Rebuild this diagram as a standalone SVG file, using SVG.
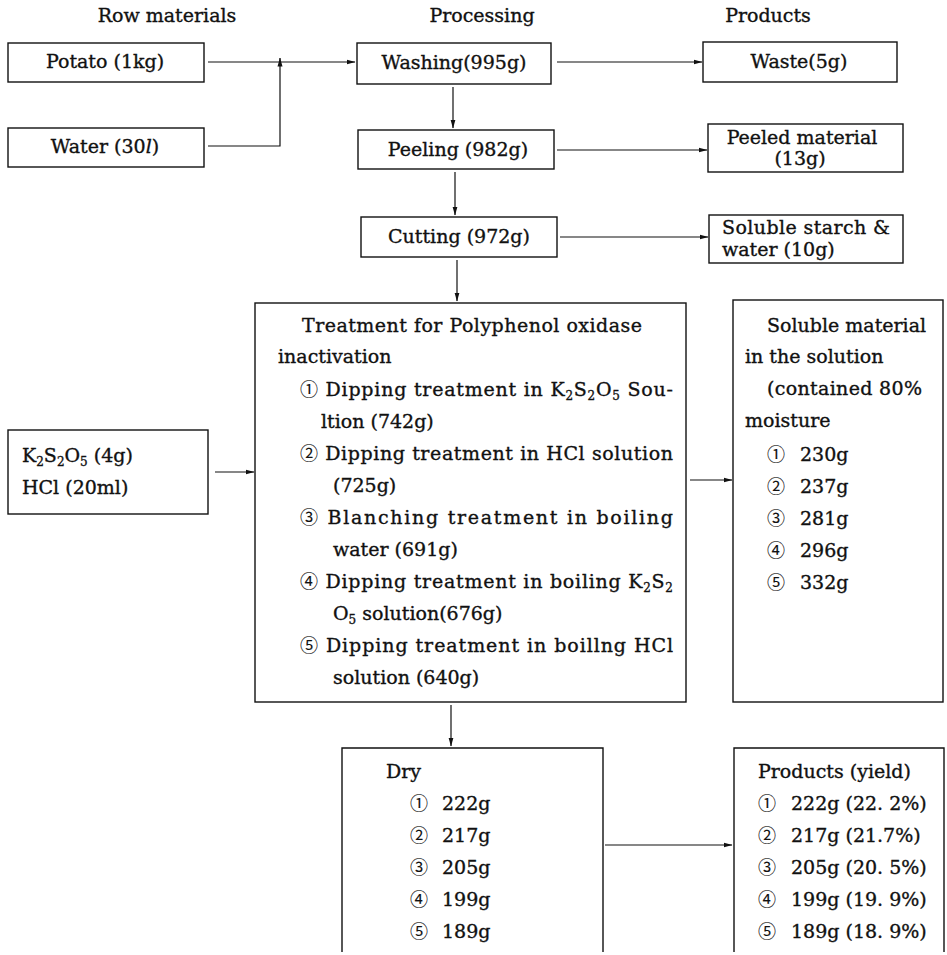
<svg xmlns="http://www.w3.org/2000/svg" width="947" height="955" viewBox="0 0 947 955">
<style>
.box{fill:none;stroke:#111;stroke-width:1.4}
.t{font-family:"DejaVu Serif","DejaVu Sans","Noto Sans CJK JP",serif;font-size:19px;fill:#111;stroke:#111;stroke-width:0.35}
.m{text-anchor:middle}
.n{font-family:"Noto Sans CJK JP","DejaVu Sans",sans-serif;font-size:18px;stroke-width:0.1}
.conn line,.conn polyline{fill:none;stroke:#111;stroke-width:1.2}
.sub{font-size:12px}
</style>
<defs>
<marker id="ah" markerWidth="9" markerHeight="6" refX="8.5" refY="3" orient="auto" markerUnits="userSpaceOnUse"><path d="M0,0.5 L9,3 L0,5.5 Z" fill="#111"/></marker>
</defs>
<rect width="947" height="955" fill="#fff"/>

<g id="headers" class="t">
<text x="167" y="22" class="m">Row materials</text>
<text x="482" y="22" class="m">Processing</text>
<text x="768" y="22" class="m">Products</text>
</g>

<g id="potato"><rect class="box" x="8" y="43" width="196" height="39"/><text class="t m" x="105" y="68">Potato (1kg)</text></g>
<g id="water"><rect class="box" x="8" y="128" width="196" height="39"/><text class="t m" x="105" y="153">Water (30<tspan font-style="italic">l</tspan>)</text></g>
<g id="washing"><rect class="box" x="357" y="43" width="194" height="41"/><text class="t m" x="454" y="69">Washing(995g)</text></g>
<g id="waste"><rect class="box" x="703" y="42" width="194" height="40"/><text class="t m" x="799" y="68">Waste(5g)</text></g>
<g id="peeling"><rect class="box" x="358" y="130" width="196" height="39"/><text class="t m" x="458" y="156">Peeling (982g)</text></g>
<g id="peeled"><rect class="box" x="708" y="124" width="195" height="48"/><text class="t m" x="802" y="144">Peeled material</text><text class="t m" x="800" y="165">(13g)</text></g>
<g id="cutting"><rect class="box" x="361" y="217" width="196" height="40"/><text class="t m" x="459" y="243">Cutting (972g)</text></g>
<g id="solstarch"><rect class="box" x="709" y="215" width="194" height="48"/><text class="t" x="722" y="234" textLength="168">Soluble starch &amp;</text><text class="t" x="722" y="256">water (10g)</text></g>

<g id="k2s2o5"><rect class="box" x="8" y="430" width="200" height="84"/>
<text class="t" x="22" y="462">K<tspan class="sub" dy="4">2</tspan><tspan dy="-4">S</tspan><tspan class="sub" dy="4">2</tspan><tspan dy="-4">O</tspan><tspan class="sub" dy="4">5</tspan><tspan dy="-4"> (4g)</tspan></text>
<text class="t" x="22" y="494">HCl (20ml)</text></g>

<g id="treatment"><rect class="box" x="255" y="303" width="431" height="399"/>
<text class="t" x="302" y="332" textLength="340">Treatment for Polyphenol oxidase</text>
<text class="t" x="278" y="363">inactivation</text>
<text class="t" x="300" y="396" textLength="373"><tspan class="n">①</tspan> Dipping treatment in K<tspan class="sub" dy="4">2</tspan><tspan dy="-4">S</tspan><tspan class="sub" dy="4">2</tspan><tspan dy="-4">O</tspan><tspan class="sub" dy="4">5</tspan><tspan dy="-4"> Sou-</tspan></text>
<text class="t" x="321" y="428">ltion (742g)</text>
<text class="t" x="300" y="460" textLength="373"><tspan class="n">②</tspan> Dipping treatment in HCl solution</text>
<text class="t" x="333" y="492">(725g)</text>
<text class="t" x="300" y="524" textLength="373"><tspan class="n">③</tspan> Blanching treatment in boiling</text>
<text class="t" x="333" y="556">water (691g)</text>
<text class="t" x="300" y="588" textLength="373"><tspan class="n">④</tspan> Dipping treatment in boiling K<tspan class="sub" dy="4">2</tspan><tspan dy="-4">S</tspan><tspan class="sub" dy="4">2</tspan></text>
<text class="t" x="333" y="620">O<tspan class="sub" dy="4">5</tspan><tspan dy="-4"> solution(676g)</tspan></text>
<text class="t" x="300" y="652" textLength="373"><tspan class="n">⑤</tspan> Dipping treatment in boillng HCl</text>
<text class="t" x="333" y="684">solution (640g)</text>
</g>

<g id="soluble"><rect class="box" x="733" y="300" width="210" height="402"/>
<text class="t" x="767" y="332">Soluble material</text>
<text class="t" x="745" y="363">in the solution</text>
<text class="t" x="767" y="395" textLength="155">(contained 80%</text>
<text class="t" x="745" y="427">moisture</text>
<text class="t" x="767" y="461"><tspan class="n">①</tspan><tspan x="800">230g</tspan></text>
<text class="t" x="767" y="493"><tspan class="n">②</tspan><tspan x="800">237g</tspan></text>
<text class="t" x="767" y="525"><tspan class="n">③</tspan><tspan x="800">281g</tspan></text>
<text class="t" x="767" y="557"><tspan class="n">④</tspan><tspan x="800">296g</tspan></text>
<text class="t" x="767" y="589"><tspan class="n">⑤</tspan><tspan x="800">332g</tspan></text>
</g>

<g id="dry"><path class="box" d="M342,952 V748 H603 V952"/>
<text class="t" x="386" y="778">Dry</text>
<text class="t" x="410" y="810"><tspan class="n">①</tspan><tspan x="442">222g</tspan></text>
<text class="t" x="410" y="842"><tspan class="n">②</tspan><tspan x="442">217g</tspan></text>
<text class="t" x="410" y="874"><tspan class="n">③</tspan><tspan x="442">205g</tspan></text>
<text class="t" x="410" y="906"><tspan class="n">④</tspan><tspan x="442">199g</tspan></text>
<text class="t" x="410" y="938"><tspan class="n">⑤</tspan><tspan x="442">189g</tspan></text>
</g>

<g id="products"><path class="box" d="M734,952 V748 H944 V952"/>
<text class="t" x="758" y="778">Products (yield)</text>
<text class="t" x="758" y="810"><tspan class="n">①</tspan><tspan x="791">222g (22. 2%)</tspan></text>
<text class="t" x="758" y="842"><tspan class="n">②</tspan><tspan x="791">217g (21.7%)</tspan></text>
<text class="t" x="758" y="874"><tspan class="n">③</tspan><tspan x="791">205g (20. 5%)</tspan></text>
<text class="t" x="758" y="906"><tspan class="n">④</tspan><tspan x="791">199g (19. 9%)</tspan></text>
<text class="t" x="758" y="938"><tspan class="n">⑤</tspan><tspan x="791">189g (18. 9%)</tspan></text>
</g>

<g id="connectors" class="conn">
<line x1="208" y1="62" x2="355" y2="62" marker-end="url(#ah)"/>
<polyline points="208,146 280,146 280,58" marker-end="url(#ah)"/>
<line x1="557" y1="62" x2="702" y2="62" marker-end="url(#ah)"/>
<line x1="453" y1="87" x2="453" y2="128" marker-end="url(#ah)"/>
<line x1="557" y1="150" x2="707" y2="150" marker-end="url(#ah)"/>
<line x1="455" y1="172" x2="455" y2="215" marker-end="url(#ah)"/>
<line x1="560" y1="237" x2="708" y2="237" marker-end="url(#ah)"/>
<line x1="457" y1="260" x2="457" y2="301" marker-end="url(#ah)"/>
<line x1="215" y1="472" x2="254" y2="472" marker-end="url(#ah)"/>
<line x1="690" y1="480" x2="732" y2="480" marker-end="url(#ah)"/>
<line x1="451" y1="705" x2="451" y2="746" marker-end="url(#ah)"/>
<line x1="605" y1="845" x2="732" y2="845" marker-end="url(#ah)"/>
</g>
</svg>
